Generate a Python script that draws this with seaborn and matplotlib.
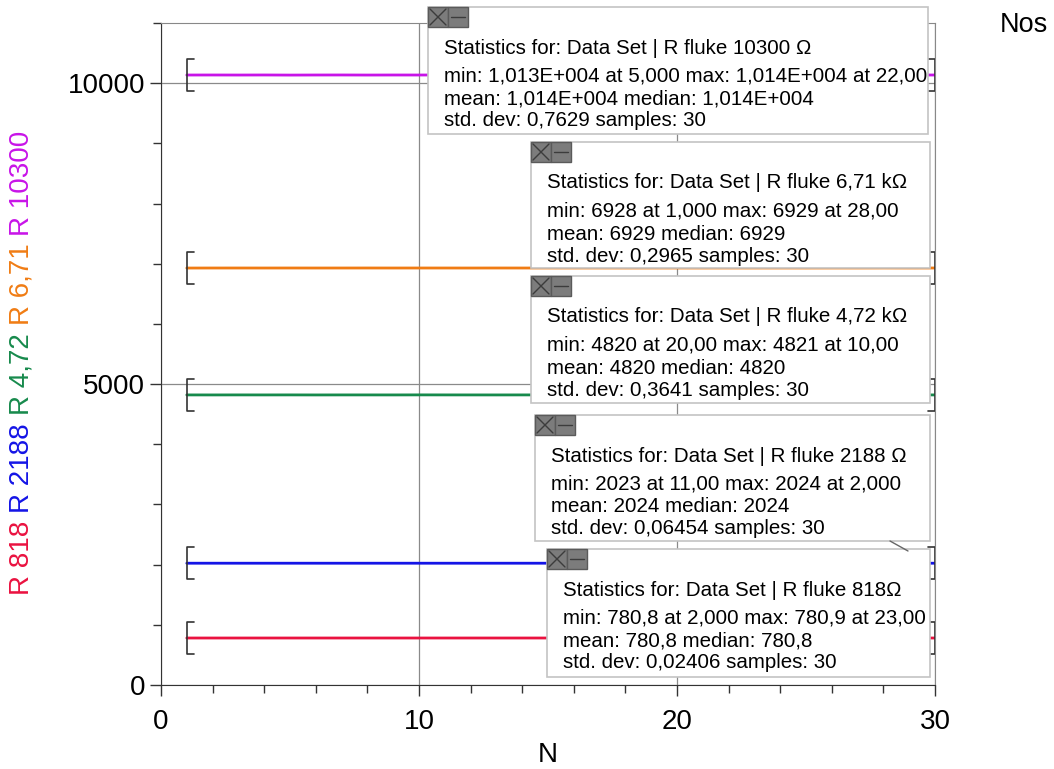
import pandas as pd
import matplotlib
matplotlib.use("Agg")
import matplotlib.pyplot as plt
import seaborn as sns
from matplotlib.patches import Rectangle
from matplotlib.lines import Line2D
from matplotlib.ticker import MultipleLocator

# ---- data ----
samples = list(range(1, 31))
series_names = ["R 818", "R 2188", "R 4,72", "R 6,71", "R 10300"]
series_colors = ["#ea1240", "#1414e6", "#178a4c", "#f07c14", "#c814e8"]

r818 = [780.84, 780.79, 780.83, 780.85, 780.82, 780.84, 780.81, 780.86, 780.83, 780.82,
        780.85, 780.84, 780.80, 780.83, 780.86, 780.82, 780.84, 780.81, 780.85, 780.83,
        780.84, 780.82, 780.89, 780.83, 780.81, 780.85, 780.84, 780.82, 780.86, 780.83]
r2188 = [2023.55, 2023.63, 2023.54, 2023.52, 2023.56, 2023.53, 2023.55, 2023.51, 2023.57, 2023.54,
         2023.46, 2023.55, 2023.53, 2023.56, 2023.52, 2023.54, 2023.58, 2023.53, 2023.55, 2023.51,
         2023.56, 2023.54, 2023.52, 2023.57, 2023.55, 2023.53, 2023.54, 2023.56, 2023.52, 2023.55]
r4720 = [4820.1, 4819.8, 4820.3, 4820.0, 4820.4, 4819.7, 4820.2, 4820.1, 4819.9, 4820.7,
         4820.3, 4820.0, 4819.8, 4820.2, 4820.4, 4820.1, 4819.9, 4820.3, 4820.0, 4819.3,
         4820.2, 4820.1, 4819.8, 4820.4, 4820.0, 4820.2, 4819.9, 4820.3, 4820.1, 4820.0]
r6710 = [6928.3, 6928.9, 6929.0, 6928.8, 6929.1, 6928.7, 6928.9, 6929.2, 6928.8, 6929.0,
         6928.9, 6928.6, 6929.1, 6928.8, 6929.0, 6928.9, 6929.2, 6928.7, 6929.0, 6928.9,
         6928.8, 6929.1, 6928.9, 6929.0, 6928.7, 6929.1, 6928.9, 6929.6, 6928.8, 6929.0]
r10300 = [10135.6, 10136.1, 10135.4, 10136.3, 10134.6, 10135.9, 10136.4, 10135.2, 10136.0, 10135.7,
          10136.5, 10135.3, 10135.8, 10136.2, 10135.5, 10136.6, 10135.9, 10135.1, 10136.3, 10135.7,
          10136.0, 10137.4, 10135.6, 10136.1, 10135.4, 10136.2, 10135.8, 10136.5, 10135.3, 10135.9]
series_values = [r818, r2188, r4720, r6710, r10300]

# statistics boxes, top to bottom
stats_10300 = ["Statistics for: Data Set | R fluke 10300 Ω",
               "min: 1,013E+004 at 5,000 max: 1,014E+004 at 22,00",
               "mean: 1,014E+004 median: 1,014E+004",
               "std. dev: 0,7629 samples: 30"]
stats_6710 = ["Statistics for: Data Set | R fluke 6,71 kΩ",
              "min: 6928 at 1,000 max: 6929 at 28,00",
              "mean: 6929 median: 6929",
              "std. dev: 0,2965 samples: 30"]
stats_4720 = ["Statistics for: Data Set | R fluke 4,72 kΩ",
              "min: 4820 at 20,00 max: 4821 at 10,00",
              "mean: 4820 median: 4820",
              "std. dev: 0,3641 samples: 30"]
stats_2188 = ["Statistics for: Data Set | R fluke 2188 Ω",
              "min: 2023 at 11,00 max: 2024 at 2,000",
              "mean: 2024 median: 2024",
              "std. dev: 0,06454 samples: 30"]
stats_818 = ["Statistics for: Data Set | R fluke 818Ω",
             "min: 780,8 at 2,000 max: 780,9 at 23,00",
             "mean: 780,8 median: 780,8",
             "std. dev: 0,02406 samples: 30"]
stats_boxes = [stats_10300, stats_6710, stats_4720, stats_2188, stats_818]

# ---- figure ----
W, H = 1054, 769
sns.set_style("white")
plt.rcParams['font.family'] = ['Liberation Sans', 'DejaVu Sans']
plt.rcParams['text.color'] = 'black'
plt.rcParams['axes.labelcolor'] = 'black'

fig = plt.figure(figsize=(W / 100, H / 100), dpi=100)
ax = fig.add_axes([161 / W, 1 - 685 / H, (935 - 161) / W, (685 - 23) / H])


def fx(px):
    return px / W


def fy(py):
    return 1 - py / H


df = pd.DataFrame({
    "N": samples * len(series_names),
    "value": [v for vals in series_values for v in vals],
    "series": [name for name in series_names for _ in samples],
})
sns.lineplot(data=df, x="N", y="value", hue="series", hue_order=series_names,
             palette=series_colors, legend=False, linewidth=2, ax=ax, zorder=3)

# examine brackets at first and last sample
half = 270
arm = 0.27
for vals in series_values:
    m = sum(vals) / len(vals)
    x0, x1 = samples[0], samples[-1]
    ax.plot([x0 + arm, x0, x0, x0 + arm], [m - half, m - half, m + half, m + half],
            color="#333333", lw=1.2, zorder=4)
    ax.plot([x1 - arm, x1, x1, x1 - arm], [m - half, m - half, m + half, m + half],
            color="#333333", lw=1.2, zorder=4)

ax.set_xlim(0, 30)
ax.set_ylim(0, 11000)
ax.xaxis.set_major_locator(MultipleLocator(10))
ax.xaxis.set_minor_locator(MultipleLocator(2))
ax.yaxis.set_major_locator(MultipleLocator(5000))
ax.yaxis.set_minor_locator(MultipleLocator(1000))
ax.grid(True, which="major", color="#8a8a8a", lw=0.9)
ax.set_axisbelow(True)
ax.tick_params(which="major", direction="out", length=8, width=1, color="#333333",
               labelsize=20, labelcolor="black", bottom=True, left=True)
ax.tick_params(axis="x", which="major", pad=9)
ax.tick_params(which="minor", direction="out", length=6, width=1, color="#333333",
               bottom=True, left=True)
for s in ["left", "bottom"]:
    ax.spines[s].set_color("#333333")
for s in ["top", "right"]:
    ax.spines[s].set_color("#888888")
ax.set_xlabel("N", fontsize=20, labelpad=5, color="black")
ax.set_ylabel("")

# multi-coloured y label
fig.canvas.draw()
renderer = fig.canvas.get_renderer()
ypos = 595
for name, col in zip(series_names, series_colors):
    t = fig.text(fx(22), fy(ypos), name, rotation=90, ha="center", va="bottom",
                 fontsize=20, color=col)
    bb = t.get_window_extent(renderer)
    ypos -= bb.height + 8

fig.text(fx(1000), fy(25), "Nos", fontsize=19.5, ha="left", va="center")

# statistics boxes (left, top, right, bottom) in pixels
box_px = [(428, 7, 928, 134), (531, 142, 930, 268), (531, 276, 930, 403),
          (535, 415, 930, 541), (547, 549, 930, 677)]
line_offsets = [41, 69, 92, 114]
for (l, t, r, b), lines in zip(box_px, stats_boxes):
    fig.add_artist(Rectangle((fx(l), fy(b)), fx(r - l), (b - t) / H,
                             transform=fig.transFigure, facecolor="white",
                             edgecolor="#c4c4c4", lw=1.2, zorder=5))
    # close and minimise icons
    for k in range(2):
        il = l + k * 20
        fig.add_artist(Rectangle((fx(il), fy(t + 20)), fx(20), 20 / H,
                                 transform=fig.transFigure, facecolor="#7c7c7c",
                                 edgecolor="#5a5a5a", lw=1, zorder=6))
    fig.add_artist(Line2D([fx(l + 2), fx(l + 18)], [fy(t + 2), fy(t + 18)],
                          transform=fig.transFigure, color="#3c3c3c", lw=1, zorder=7))
    fig.add_artist(Line2D([fx(l + 2), fx(l + 18)], [fy(t + 18), fy(t + 2)],
                          transform=fig.transFigure, color="#3c3c3c", lw=1, zorder=7))
    fig.add_artist(Line2D([fx(l + 23), fx(l + 37)], [fy(t + 10), fy(t + 10)],
                          transform=fig.transFigure, color="#3c3c3c", lw=1, zorder=7))
    for off, line in zip(line_offsets, lines):
        fig.text(fx(l + 16), fy(t + off), line, fontsize=14.8, ha="left", va="center",
                 color="black", zorder=8)

fig.add_artist(Line2D([fx(890), fx(908)], [fy(541), fy(551)],
                      transform=fig.transFigure, color="#666666", lw=1, zorder=5))

fig.savefig("out.png", dpi=100)
